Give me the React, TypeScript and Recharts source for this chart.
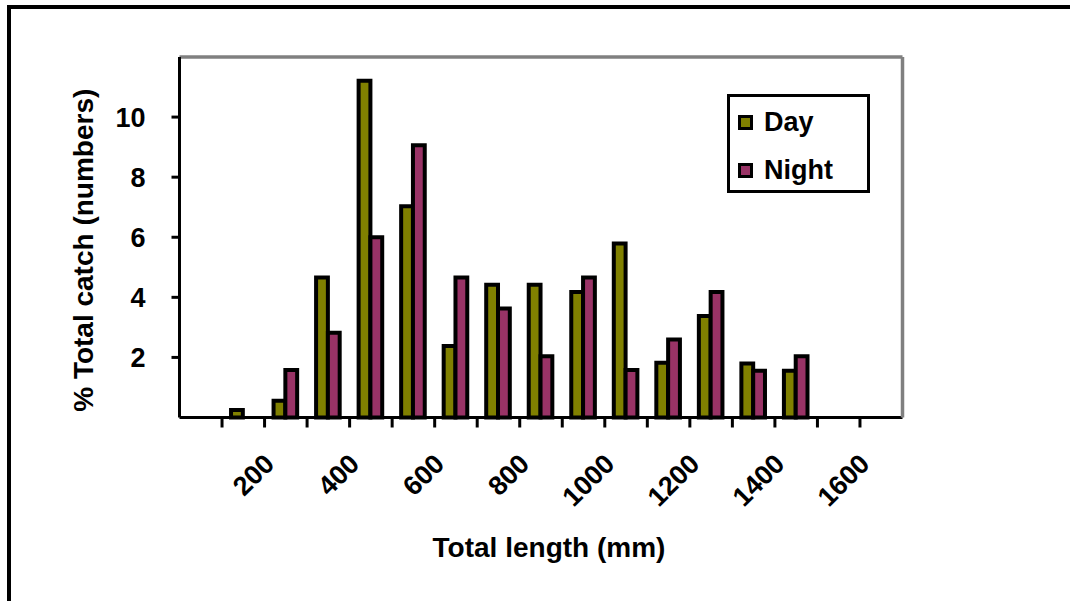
import React from "react";
import { BarChart, Bar, XAxis, YAxis, ReferenceLine, Legend } from "recharts";

// length classes (mm) on the category axis
const lengthClasses = [0, 100, 200, 300, 400, 500, 600, 700, 800, 900, 1000, 1100, 1200, 1300, 1400, 1500, 1600];
// % of total catch
const dayCatch = [null, 0.25, 0.56, 4.66, 11.21, 7.03, 2.38, 4.42, 4.42, 4.18, 5.79, 1.82, 3.38, 1.8, 1.56, null, null];
const nightCatch = [null, null, 1.58, 2.82, 6.0, 9.06, 4.66, 3.63, 2.04, 4.66, 1.58, 2.6, 4.18, 1.56, 2.04, null, null];

const yTicks = [2, 4, 6, 8, 10];
const xLabels = [200, 400, 600, 800, 1000, 1200, 1400, 1600];

const FONT = "'Liberation Sans', Arial, Helvetica, sans-serif";
const DAY = "#808000";
const NIGHT = "#993366";

const data = lengthClasses.map((len, i) => ({
  len,
  day: dayCatch[i],
  night: nightCatch[i],
}));

// category ticks: mark on the left edge of each band (Excel style), label every 200 mm
const LengthTick = ({ x, y, payload, index }: any) => {
  const edge = x - (payload.offset || 0);
  const showLabel = xLabels.includes(payload.value);
  const px = x - 10;
  const py = y + 48;
  return (
    <g>
      {index > 0 && <line x1={edge} x2={edge} y1={y} y2={y + 10} stroke="#000" strokeWidth={3} />}
      {showLabel && (
        <text
          x={px}
          y={py}
          transform={`rotate(-45 ${px} ${py})`}
          textAnchor="end"
          fill="#000"
          fontSize={27}
          fontWeight={700}
          fontFamily={FONT}
        >
          {payload.value}
        </text>
      )}
    </g>
  );
};

const XTitle = ({ viewBox }: any) => {
  const cx = viewBox.x + viewBox.width / 2 + 8;
  return (
    <text x={cx} y={viewBox.y + 139} textAnchor="middle" fill="#000" fontSize={28} fontWeight={700} fontFamily={FONT}>
      Total length (mm)
    </text>
  );
};

const YTitle = ({ viewBox }: any) => {
  const cx = viewBox.x + 13.5;
  const cy = viewBox.y + viewBox.height / 2 + 13;
  return (
    <text
      x={cx}
      y={cy}
      transform={`rotate(-90 ${cx} ${cy})`}
      textAnchor="middle"
      fill="#000"
      fontSize={28}
      fontWeight={700}
      fontFamily={FONT}
    >
      % Total catch (numbers)
    </text>
  );
};

const legendItems = [
  { name: "Day", color: DAY },
  { name: "Night", color: NIGHT },
];

const LegendBox = () => (
  <div
    style={{
      boxSizing: "border-box",
      width: 143,
      height: 99,
      border: "3px solid #000",
      background: "#fff",
      paddingTop: 1,
      fontFamily: FONT,
    }}
  >
    {legendItems.map((it) => (
      <div key={it.name} style={{ height: 48, display: "flex", alignItems: "center", paddingLeft: 8 }}>
        <span
          style={{
            boxSizing: "border-box",
            width: 15,
            height: 15,
            border: "3px solid #000",
            background: it.color,
            display: "inline-block",
          }}
        />
        <span style={{ marginLeft: 11, fontSize: 27, fontWeight: 700, color: "#000", lineHeight: "30px" }}>
          {it.name}
        </span>
      </div>
    ))}
  </div>
);

export default function App() {
  return (
    <div
      style={{
        position: "absolute",
        left: 0,
        top: 0,
        width: 1070,
        height: 601,
        overflow: "hidden",
        background: "#fff",
      }}
    >
      <div
        style={{
          position: "absolute",
          left: 7,
          top: 5,
          width: 1070,
          height: 620,
          borderTop: "4px solid #000",
          borderLeft: "4px solid #000",
        }}
      />
      <div style={{ position: "absolute", left: 0, top: 0 }}>
        <BarChart
          width={1070}
          height={601}
          data={data}
          margin={{ top: 57, right: 166.5, bottom: 182.5, left: 79.5 }}
          barSize={11.8}
          barGap={0}
        >
          <XAxis
            dataKey="len"
            height={1}
            axisLine={{ stroke: "#000", strokeWidth: 3 }}
            tickLine={false}
            tickSize={0}
            tickMargin={0}
            interval={0}
            tick={<LengthTick />}
            label={{ content: XTitle }}
          />
          <YAxis
            width={100}
            domain={[0, 12]}
            ticks={yTicks}
            interval={0}
            tickSize={8}
            tickMargin={26}
            axisLine={{ stroke: "#000", strokeWidth: 3 }}
            tickLine={{ stroke: "#000", strokeWidth: 3 }}
            tick={{ fill: "#000", fontSize: 27, fontWeight: 700, fontFamily: FONT }}
            label={{ content: YTitle }}
          />
          <YAxis
            yAxisId="frame"
            orientation="right"
            width={1}
            domain={[0, 12]}
            tick={false}
            tickLine={false}
            axisLine={{ stroke: "#808080", strokeWidth: 3.5 }}
          />
          <ReferenceLine y={12} stroke="#808080" strokeWidth={3.5} />
          <Legend
            layout="vertical"
            align="center"
            verticalAlign="middle"
            content={<LegendBox />}
            wrapperStyle={{ top: 94, left: 727, width: 143, height: 99 }}
          />
          <Bar dataKey="day" name="Day" fill={DAY} stroke="#000" strokeWidth={4} isAnimationActive={false} />
          <Bar dataKey="night" name="Night" fill={NIGHT} stroke="#000" strokeWidth={4} isAnimationActive={false} />
        </BarChart>
      </div>
    </div>
  );
}
